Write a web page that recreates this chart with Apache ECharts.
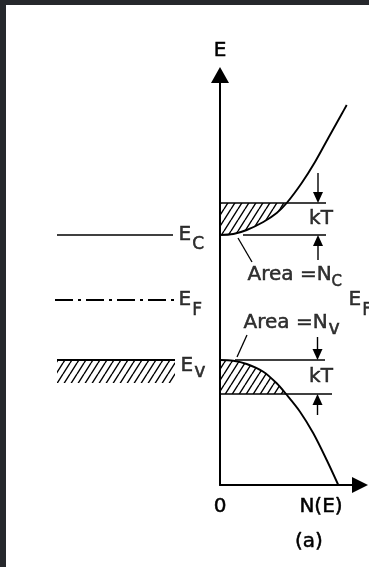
<!DOCTYPE html>
<html>
<head>
<meta charset="utf-8">
<script src="https://cdn.jsdelivr.net/npm/echarts@6/dist/echarts.min.js"></script>
<style>
  html, body { margin: 0; padding: 0; background: #fff; }
  #chart { width: 369px; height: 567px; }
</style>
</head>
<body>
<div id="chart"></div>
<script>
// Band edges and Fermi level (arbitrary energy units)
const levelNames = ['E_C', 'E_F', 'E_V'];
const levelE = [25.0, 18.5, 12.5];
// kT windows above E_C and below E_V
const kT = [3.2, 3.4];

// Density of states N(E): conduction band (above E_C) and valence band (below E_V)
const condN = [0, 1.33, 2.67, 4.33, 5.67, 6.67, 8.17, 9.5, 10.83, 12.17, 12.67];
const condE = [25.0, 25.1, 25.5, 26.3, 27.2, 28.2, 30.2, 32.3, 34.7, 37.1, 38.0];
const valN = [0, 1.33, 2.67, 4.33, 5.67, 6.6, 8.0, 9.33, 10.67, 11.83];
const valE = [12.5, 12.43, 12.1, 11.33, 10.17, 9.1, 7.33, 5.17, 2.5, 0];

// Band diagram on the left: extent of the level lines and depth of the filled valence band
const bandX = [5.7, 17.4];
const bandHatchDepth = 2.3;

// Guide lines on the N(E) side: start / end along N(E)
const guideStart = [0, 2.3, 1.5, 0];
const guideEnd = [10.6, 10.6, 10.5, 11.2];

// kT dimension arrows: [N, tail E, tip E]
const arrowN = [9.8, 9.75];
const arrowTail = [[31.2, 22.5], [14.8, 7.0]];

// Annotation anchors
const areaLabelN = [2.7, 2.3];
const areaLabelE = [21.0, 16.25];
const leaderNc = [[1.8, 24.7], [3.2, 22.3]];
const leaderNv = [[1.7, 12.8], [2.7, 15.0]];
const kTLabelN = 10.1;
const rightEFN = 12.8;

// N(E) axis labels
const xTickValues = [0, 10.1];
const xTickLabels = ['0', 'N(E)'];

const FONT = 'DejaVu Sans';
const INK = '#000';

const EcKT = levelE[0] + kT[0];
const EvKT = levelE[2] - kT[1];

function hatchPattern() {
  const w = 7, h = 11;
  const c = document.createElement('canvas');
  c.width = w; c.height = h;
  const g = c.getContext('2d');
  g.strokeStyle = '#000';
  g.lineWidth = 1.4;
  g.beginPath();
  for (const dx of [-w, 0, w]) { g.moveTo(dx, h); g.lineTo(dx + w, 0); }
  g.stroke();
  return { image: c, repeat: 'repeat' };
}
const hatch = hatchPattern();

// Text is drawn with a thin outline so the glyphs carry the weight of the printed labels
const ink = { color: INK, textBorderColor: INK, textBorderWidth: 0.5 };
const rich = {
  m:  Object.assign({ fontFamily: FONT, fontSize: 20, lineHeight: 20 }, ink),
  sC: Object.assign({ fontFamily: FONT, fontSize: 17, lineHeight: 20, padding: [19, 0, 0, 1] }, ink),
  sF: Object.assign({ fontFamily: FONT, fontSize: 17, lineHeight: 20, padding: [21, 0, 0, 1] }, ink),
  sV: Object.assign({ fontFamily: FONT, fontSize: 19, lineHeight: 20, padding: [13, 0, 0, 1] }, ink),
  sN: Object.assign({ fontFamily: FONT, fontSize: 15, lineHeight: 20, padding: [15, 0, 0, 0] }, ink)
};

function pairs(xs, ys) { return xs.map((x, i) => [x, ys[i]]); }

function segment(p0, p1, grid, width, type) {
  return {
    type: 'line', xAxisIndex: grid, yAxisIndex: grid, data: [p0, p1],
    symbol: 'none', silent: true, z: 3,
    lineStyle: { color: INK, width: width || 1.5, type: type || 'solid' }
  };
}

function hatchArea(points, grid) {
  return {
    type: 'custom', xAxisIndex: grid, yAxisIndex: grid, silent: true, z: 1,
    data: [[0, 0]],
    renderItem: (params, api) => ({
      type: 'polygon',
      shape: { points: points.map(p => api.coord(p)) },
      style: { fill: hatch, stroke: null }
    })
  };
}

function textMarks(grid, items) {
  return {
    type: 'scatter', xAxisIndex: grid, yAxisIndex: grid, silent: true, z: 5,
    symbolSize: 1, itemStyle: { color: 'transparent' },
    data: items.map(it => ({
      value: it.at,
      label: Object.assign({ show: true, formatter: it.text, rich: rich, color: INK,
        position: it.pos || 'right', distance: it.dist == null ? 5 : it.dist }, it.extra || {})
    }))
  };
}

function curve(xs, ys) {
  return {
    type: 'line', xAxisIndex: 0, yAxisIndex: 0, data: pairs(xs, ys),
    symbol: 'none', smooth: 0.3, silent: true, z: 4,
    lineStyle: { color: INK, width: 1.9 }
  };
}

// Hatched regions
const condIdx = condE.map((e, i) => i).filter(i => condE[i] <= EcKT + 1e-9);
const condPoly = condIdx.map(i => [condN[i], condE[i]]).concat([[0, EcKT]]);
const valIdx = valE.map((e, i) => i).filter(i => valE[i] >= EvKT - 1e-9);
const valPoly = valIdx.map(i => [valN[i], valE[i]]).concat([[0, EvKT]]);
const bandPoly = [[bandX[0], levelE[2]], [bandX[1] + 0.1, levelE[2]],
                  [bandX[1] + 0.1, levelE[2] - bandHatchDepth], [bandX[0], levelE[2] - bandHatchDepth]];

const guideE = [EcKT, levelE[0], levelE[2], EvKT];

const arrowData = [
  [arrowN[0], arrowTail[0][0], EcKT],
  [arrowN[0], arrowTail[0][1], levelE[0]],
  [arrowN[1], arrowTail[1][0], levelE[2]],
  [arrowN[1], arrowTail[1][1], EvKT]
];

const series = [
  hatchArea(condPoly, 0),
  hatchArea(valPoly, 0),
  hatchArea(bandPoly, 1),
  curve(condN, condE),
  curve(valN, valE),
  // band diagram levels
  segment([bandX[0], levelE[0]], [bandX[1] - 0.1, levelE[0]], 1, 1.5),
  segment([bandX[0] - 0.2, levelE[1]], [bandX[1] + 0.1, levelE[1]], 1, 1.8, [18, 5, 3, 5]),
  segment([bandX[0], levelE[2]], [bandX[1] + 0.1, levelE[2]], 1, 1.8),
  // leader lines
  segment(leaderNc[0], leaderNc[1], 0, 1.3),
  segment(leaderNv[0], leaderNv[1], 0, 1.3),
  {
    type: 'custom', xAxisIndex: 0, yAxisIndex: 0, silent: true, z: 5,
    data: arrowData, encode: { x: 0, y: [1, 2] },
    renderItem: (params, api) => {
      const p0 = api.coord([api.value(0), api.value(1)]);
      const p1 = api.coord([api.value(0), api.value(2)]);
      const dir = p1[1] > p0[1] ? 1 : -1;
      const h = 11, w = 5;
      return {
        type: 'group',
        children: [
          { type: 'line', shape: { x1: p0[0], y1: p0[1], x2: p1[0], y2: p1[1] - dir * h },
            style: { stroke: INK, lineWidth: 1.4 } },
          { type: 'polygon',
            shape: { points: [[p1[0], p1[1]], [p1[0] - w, p1[1] - dir * h], [p1[0] + w, p1[1] - dir * h]] },
            style: { fill: INK } }
        ]
      };
    }
  },
  textMarks(1, [
    { at: [bandX[1] - 0.1, levelE[0]], text: '{m|E}{sC|C}', dist: 5 },
    { at: [bandX[1] + 0.1, levelE[1]], text: '{m|E}{sF|F}', dist: 3 },
    { at: [bandX[1] + 0.1, levelE[2]], text: '{m|E}{sV|v}', dist: 5, extra: { offset: [0, 6] } }
  ]),
  textMarks(0, [
    { at: [areaLabelN[0], areaLabelE[0]], text: '{m|Area =N}{sN|C}', dist: 0 },
    { at: [areaLabelN[1], areaLabelE[1]], text: '{m|Area =N}{sV|v}', dist: 0 },
    { at: [kTLabelN, (levelE[0] + EcKT) / 2], text: '{m|kT}', pos: 'inside' },
    { at: [kTLabelN, (levelE[2] + EvKT) / 2], text: '{m|kT}', pos: 'inside' },
    { at: [rightEFN, levelE[1]], text: '{m|E}{sF|F}', dist: 0 }
  ])
];

guideE.forEach((e, i) => series.push(segment([guideStart[i], e], [guideEnd[i], e], 0, 1.5)));

const axisLine = { color: INK, width: 2 };

const option = {
  animation: false,
  backgroundColor: '#fff',
  title: {
    text: '(a)', left: 295, top: 532, padding: 0,
    textStyle: Object.assign({ fontFamily: FONT, fontSize: 20, fontWeight: 'normal' }, ink)
  },
  grid: [
    { left: 220, right: 9, top: 75, bottom: 82 },
    { left: 0, width: 200, top: 75, bottom: 82 }
  ],
  xAxis: [
    {
      gridIndex: 0, type: 'value', min: 0, max: 14,
      axisLine: { show: true, onZero: false, symbol: ['none', 'triangle'], symbolSize: [16, 16], lineStyle: axisLine },
      axisTick: { show: false }, splitLine: { show: false },
      axisLabel: Object.assign({
        customValues: xTickValues,
        formatter: v => { const i = xTickValues.indexOf(v); return i < 0 ? '' : xTickLabels[i]; },
        fontFamily: FONT, fontSize: 20, margin: 12
      }, ink)
    },
    { gridIndex: 1, type: 'value', min: 0, max: 20, show: false }
  ],
  yAxis: [
    {
      gridIndex: 0, type: 'value', min: 0, max: 41,
      name: 'E', nameLocation: 'end', nameGap: 14,
      nameTextStyle: Object.assign({ fontFamily: FONT, fontSize: 20, align: 'center' }, ink),
      axisLine: { show: true, onZero: false, symbol: ['none', 'triangle'], symbolSize: [18, 16], lineStyle: axisLine },
      axisTick: { show: false }, axisLabel: { show: false }, splitLine: { show: false }
    },
    { gridIndex: 1, type: 'value', min: 0, max: 41, show: false }
  ],
  graphic: [
    { type: 'rect', left: 0, top: 0, z: 100, shape: { width: 6, height: 567 }, style: { fill: '#26282c' } },
    { type: 'rect', left: 0, top: 0, z: 100, shape: { width: 369, height: 5 }, style: { fill: '#26282c' } }
  ],
  series: series
};

const chart = echarts.init(document.getElementById('chart'), null, { renderer: 'canvas' });
chart.setOption(option);
</script>
</body>
</html>
